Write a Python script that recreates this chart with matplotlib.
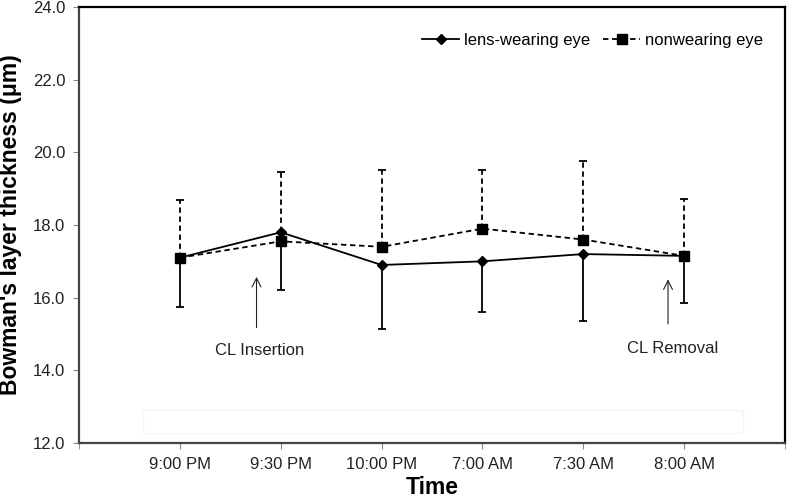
import matplotlib.pyplot as plt
from matplotlib.patches import Rectangle

plt.rcParams['font.family'] = ['Liberation Sans', 'DejaVu Sans']

# Data
times = ["9:00 PM", "9:30 PM", "10:00 PM", "7:00 AM", "7:30 AM", "8:00 AM"]
lens_mean = [17.1, 17.8, 16.9, 17.0, 17.2, 17.15]
lens_sd = [1.35, 1.6, 1.77, 1.4, 1.84, 1.3]
non_mean = [17.1, 17.55, 17.4, 17.9, 17.6, 17.15]
non_sd = [1.6, 1.9, 2.1, 1.62, 2.16, 1.56]

x = list(range(len(times)))

fig = plt.figure(figsize=(7.87, 4.98), dpi=100)
ax = fig.add_axes([0.1004, 0.1104, 0.8971, 0.8756])

# error bars: lens one-sided down, nonwearing one-sided up
eb1 = ax.errorbar(x, lens_mean, yerr=[lens_sd, [0] * len(x)], fmt='none',
                  ecolor='black', elinewidth=1.3, capsize=3, capthick=1.3)
eb2 = ax.errorbar(x, non_mean, yerr=[[0] * len(x), non_sd], fmt='none',
                  ecolor='black', elinewidth=1.3, capsize=3, capthick=1.3)
for ln in eb2[2]:
    ln.set_linestyle((0, (3, 2)))

ax.plot(x, lens_mean, color='black', linestyle='-', linewidth=1.3,
        marker='D', markersize=5, label='lens-wearing eye')
ax.plot(x, non_mean, color='black', linestyle=(0, (3, 2)), linewidth=1.3,
        marker='s', markersize=6.5, label='nonwearing eye')

ax.set_xlim(-1, 6)
ax.set_ylim(12, 24)
ax.set_yticks([12, 14, 16, 18, 20, 22, 24])
ax.set_yticklabels([f"{v:.1f}" for v in [12, 14, 16, 18, 20, 22, 24]],
                   fontsize=12, color='#222222')
ax.set_xticks(x)
ax.set_xticklabels(times, fontsize=12, color='#222222')
ax.set_xticks([-1, 6], minor=True)
ax.tick_params(axis='both', which='both', direction='out', length=4,
               color='#888888', pad=6)

for s in ax.spines.values():
    s.set_linewidth(1.6)
    s.set_color('black')
ax.spines['left'].set_color('#444444')
ax.spines['bottom'].set_color('#444444')

ax.set_ylabel("Bowman's layer thickness (\u03bcm)", fontsize=16.5, fontweight='bold', labelpad=8)
ax.set_xlabel("Time", fontsize=16.5, fontweight='bold', labelpad=3)

# faint box near bottom
ax.add_patch(Rectangle((-0.37, 12.28), 5.95, 0.62, fill=False,
                       edgecolor='#f4f4f4', linewidth=1))

# annotations
arrow = dict(arrowstyle='->', color='#222222', lw=0.8, mutation_scale=16)
ax.annotate("", xy=(0.76, 16.65), xytext=(0.76, 15.1), arrowprops=arrow)
ax.text(0.79, 14.55, "CL Insertion", fontsize=12, ha='center', va='center',
        color='#222222')
ax.annotate("", xy=(4.84, 16.58), xytext=(4.84, 15.2), arrowprops=arrow)
ax.text(4.89, 14.6, "CL Removal", fontsize=12, ha='center', va='center',
        color='#222222')

ax.legend(loc='upper right', ncol=2, frameon=False, fontsize=12,
          handlelength=2.2, handletextpad=0.3, columnspacing=0.8,
          bbox_to_anchor=(0.99, 0.975))

fig.savefig("out.png", dpi=100)
